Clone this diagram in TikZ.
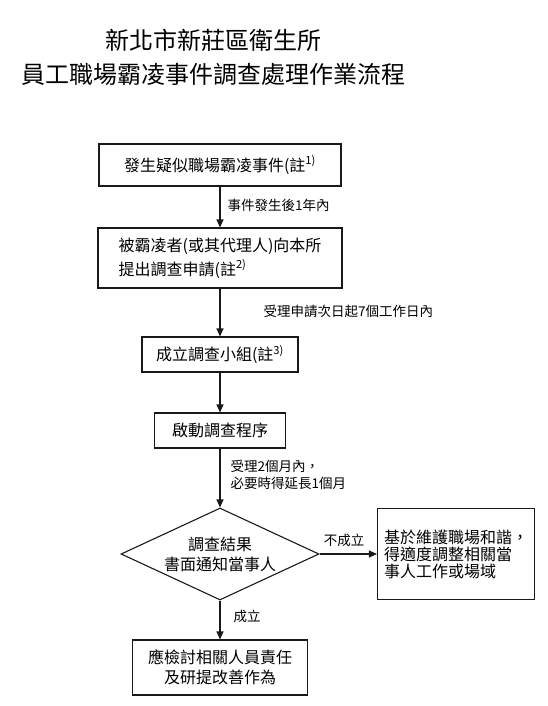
\documentclass[tikz,border=0pt]{standalone}
\usepackage{fontspec}
\usepackage{xcolor}
\usetikzlibrary{shapes.geometric, arrows.meta}
\newfontfamily\cjk{Noto Sans CJK TC}
\definecolor{cLine}{RGB}{25,25,25}
\tikzset{
	box/.style     ={rectangle, draw=cLine, line width=1.1pt, align=center, inner sep=0pt, font=\cjk\fontsize{16}{21}\selectfont},
	decision/.style={diamond, aspect=2.15, draw=cLine, line width=1.1pt, align=center, inner sep=0pt, minimum width=198pt, minimum height=92pt, font=\cjk\fontsize{16}{20}\selectfont},
	note/.style    ={anchor=west, align=left, font=\cjk\fontsize{13.5}{17}\selectfont},
	heading/.style ={align=center, font=\cjk\fontsize{24}{34}\selectfont},
	flowarrow/.style={-{Triangle[length=8pt, width=7pt]}, line width=1.1pt, draw=cLine},
}

\begin{document}
\begin{tikzpicture}[x=1pt, y=-1pt]
	\useasboundingbox (0,0) rectangle (548,706);
	\node[heading] (title) at (213,57) {新北市新莊區衛生所\\員工職場霸凌事件調查處理作業流程};
	\node[box, minimum width=242pt, minimum height=42pt] (event) at (220,165) {發生疑似職場霸凌事件(註\textsuperscript{1)}};
	\node[box, minimum width=244pt, minimum height=60pt, align=left, font=\cjk\fontsize{16}{24}\selectfont] (apply) at (220,258) {被霸凌者(或其代理人)向本所\\提出調查申請(註\textsuperscript{2)}};
	\node[box, minimum width=156pt, minimum height=35pt] (group) at (220,354.5) {成立調查小組(註\textsuperscript{3)}};
	\node[box, minimum width=131pt, minimum height=35pt] (start) at (220,430.5) {啟動調查程序};
	\node[decision] (result) at (220,554) {調查結果\\書面通知當事人};
	\node[box, minimum width=157pt, minimum height=91pt, align=left, font=\cjk\fontsize{16}{17}\selectfont] (adjust) at (456,554) {基於維護職場和諧，\\得適度調整相關當\\事人工作或場域};
	\node[box, minimum width=175pt, minimum height=55pt, font=\cjk\fontsize{16}{20}\selectfont] (review) at (220,667.5) {應檢討相關人員責任\\及研提改善作為};
	\draw[flowarrow] (event) -- (apply);
	\draw[flowarrow] (apply) -- (group);
	\draw[flowarrow] (group) -- (start);
	\draw[flowarrow] (start) -- (result);
	\draw[flowarrow] (result) -- (adjust);
	\draw[flowarrow] (result) -- (review);
	\node[note] (t1) at (224,205) {事件發生後1年內};
	\node[note] (t2) at (260,311) {受理申請次日起7個工作日內};
	\node[note] (t3) at (227,475) {受理2個月內，\\必要時得延長1個月};
	\node[note, anchor=center] (t4) at (344,540) {不成立};
	\node[note] (t5) at (230,616) {成立};
\end{tikzpicture}
\end{document}
